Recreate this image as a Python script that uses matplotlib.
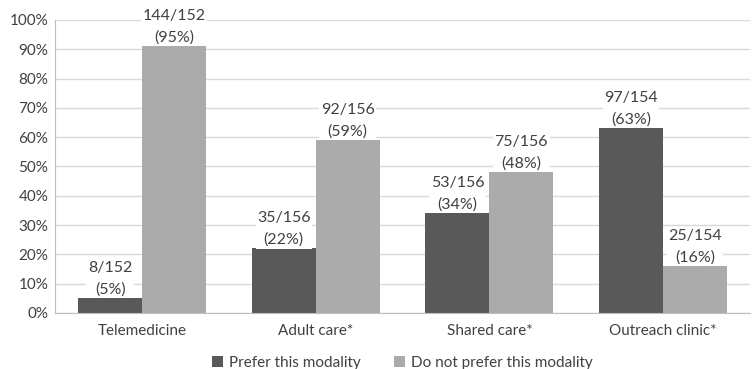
import numpy as np
import matplotlib.pyplot as plt

plt.rcParams['font.family'] = ['Lato', 'DejaVu Sans']

categorias = ['Telemedicine', 'Adult care*', 'Shared care*', 'Outreach clinic*']
prefer = [5, 22, 34, 63]
nao_prefer = [91, 59, 48, 16]
rotulos_prefer = ['8/152\n(5%)', '35/156\n(22%)', '53/156\n(34%)', '97/154\n(63%)']
rotulos_nao = ['144/152\n(95%)', '92/156\n(59%)', '75/156\n(48%)', '25/154\n(16%)']

fig = plt.figure(figsize=(7.56, 3.69), dpi=100)
ax = fig.add_axes([0.073, 0.152, 0.919, 0.794])

x = np.arange(len(categorias))
w = 0.368
b1 = ax.bar(x - w / 2, prefer, w, color='#595959', label='Prefer this modality', zorder=2)
b2 = ax.bar(x + w / 2, nao_prefer, w, color='#ababab', label='Do not prefer this modality', zorder=2)

# rotulos com fundo branco por cima das linhas de grade
for barras, rotulos in [(b1, rotulos_prefer), (b2, rotulos_nao)]:
    for barra, txt in zip(barras, rotulos):
        ax.annotate(txt, (barra.get_x() + barra.get_width() / 2, barra.get_height()),
                    xytext=(0, 1), textcoords='offset points', ha='center', va='bottom',
                    fontsize=11.5, color='#404040', linespacing=1.65, zorder=3,
                    bbox=dict(facecolor='white', edgecolor='none', pad=1))

ax.set_xlim(-0.5, 3.5)
ax.set_ylim(0, 100)
ax.set_yticks(range(0, 101, 10))
ax.set_yticklabels([f'{v}%' for v in range(0, 101, 10)], fontsize=11, color='#404040')
ax.set_xticks(x)
ax.set_xticklabels(categorias, fontsize=11, color='#404040')
ax.tick_params(axis='y', length=0, pad=5)
ax.tick_params(axis='x', length=0, pad=8)
ax.yaxis.grid(True, color='#d9d9d9', linewidth=1, zorder=0)
ax.set_axisbelow(True)
for lado in ['top', 'right']:
    ax.spines[lado].set_visible(False)
for lado in ['left', 'bottom']:
    ax.spines[lado].set_color('#bfbfbf')

ax.legend(loc='center', bbox_to_anchor=(0.5, -0.17), ncol=2, frameon=False,
          fontsize=11, handlelength=0.7, handleheight=0.7, handletextpad=0.4,
          columnspacing=2.2, labelcolor='#404040')

plt.savefig('out.png', dpi=100)
